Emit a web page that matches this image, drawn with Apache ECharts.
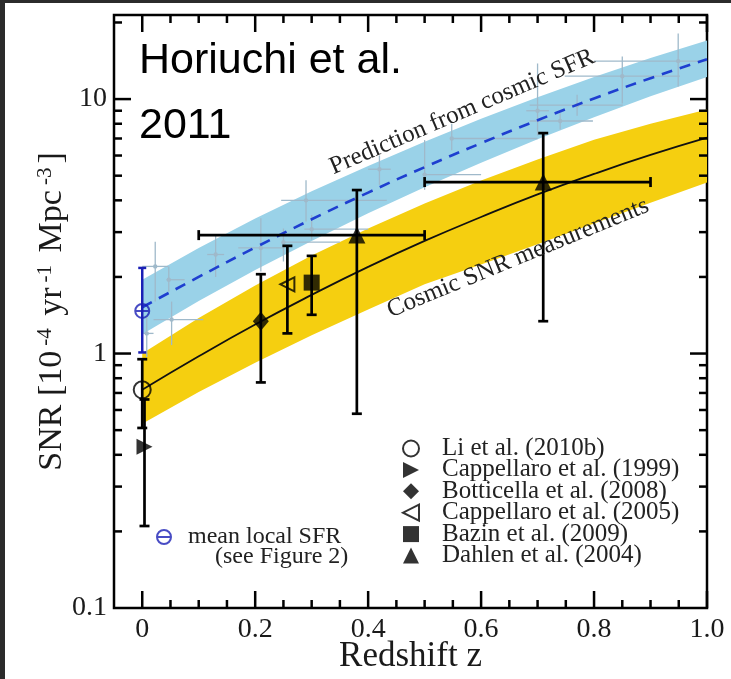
<!DOCTYPE html>
<html>
<head>
<meta charset="utf-8">
<script src="https://cdn.jsdelivr.net/npm/echarts@6/dist/echarts.min.js"></script>
<style>
  html, body { margin: 0; padding: 0; background: #ffffff; }
  #chart { width: 731px; height: 679px; }
</style>
</head>
<body>
<div id="chart"></div>
<script>
// ---- model curves, sampled in redshift ----
const zGrid = [0, 0.1, 0.2, 0.3, 0.4, 0.5, 0.6, 0.7, 0.8, 0.9, 1.0];
// SNR predicted from the cosmic star formation rate (dashed) and its band
const sfrPred  = [1.52, 2.0, 2.61, 3.37, 4.29, 5.4, 6.71, 8.26, 10.05, 12.08, 14.35];
const sfrUpper = [1.95, 2.6, 3.39, 4.34, 5.46, 6.79, 8.36, 10.16, 12.2, 14.5, 17.0];
const sfrLower = [1.19, 1.61, 2.13, 2.77, 3.56, 4.5, 5.62, 6.95, 8.49, 10.26, 12.2];
// fit to the cosmic SNR measurements (solid) and its band
const snrFit   = [0.72, 0.975, 1.3, 1.7, 2.19, 2.77, 3.44, 4.22, 5.08, 6.03, 7.05];
const snrUpper = [1.0, 1.38, 1.85, 2.43, 3.1, 3.89, 4.79, 5.79, 6.92, 8.0, 9.1];
const snrLower = [0.53, 0.706, 0.92, 1.18, 1.49, 1.87, 2.24, 2.69, 3.24, 3.91, 4.7];

// ---- SNR measurements: [z, snr, snrLow, snrHigh, zLow, zHigh] ----
const li2010          = [[0, 0.72, 0.51, 0.95]];
const cappellaro1999  = [[0.004, 0.43, 0.21, 0.66]];
const botticella2008  = [[0.21, 1.34, 0.77, 2.05]];
const cappellaro2005  = [[0.257, 1.87, 1.2, 2.65]];
const bazin2009       = [[0.30, 1.9, 1.42, 2.42]];
const dahlen2004      = [[0.38, 2.92, 0.58, 4.39, 0.1, 0.5], [0.71, 4.72, 1.34, 7.35, 0.5, 0.9]];
const meanLocalSfr    = [[0, 1.47, 1.01, 2.17]];

// ---- star formation data behind the prediction: [z, v, zLow, zHigh, vLow, vHigh] ----
const sfrData = [
  [0.023, 2.2, 0.0, 0.046, 1.6, 2.75],
  [0.052, 1.36, 0.02, 0.108, 1.08, 1.6],
  [0.008, 1.2, 0.002, 0.02, 0.97, 1.4],
  [0.047, 1.95, 0.043, 0.075, 1.75, 2.2],
  [0.13, 2.45, 0.115, 0.145, 2.0, 2.9],
  [0.21, 2.6, 0.17, 0.25, 2.1, 3.4],
  [0.25, 2.74, 0.248, 0.35, 2.3, 3.1],
  [0.29, 4.0, 0.246, 0.433, 3.3, 4.8],
  [0.30, 3.08, 0.287, 0.40, 2.8, 3.5],
  [0.42, 5.3, 0.40, 0.44, 4.6, 6.0],
  [0.50, 5.05, 0.50, 0.60, 4.4, 6.9],
  [0.548, 7.0, 0.548, 0.70, 6.3, 8.0],
  [0.70, 9.0, 0.68, 0.72, 7.2, 13.8],
  [0.77, 9.46, 0.686, 0.851, 8.6, 10.4],
  [0.74, 8.2, 0.686, 0.798, 7.6, 8.8],
  [0.85, 12.3, 0.748, 0.952, 9.6, 14.7],
  [0.949, 14.1, 0.80, 1.0, 11.2, 18.1]
];

// ---- frame ticks ----
const xMajorTicks = [0, 0.2, 0.4, 0.6, 0.8, 1.0];
const xMinorTicks = [0.05, 0.1, 0.15, 0.25, 0.3, 0.35, 0.45, 0.5, 0.55, 0.65, 0.7, 0.75, 0.85, 0.9, 0.95];
const yMajorTicks = [1, 10];
const yMinorTicks = [0.2, 0.3, 0.4, 0.5, 0.6, 0.7, 0.8, 0.9, 2, 3, 4, 5, 6, 7, 8, 9, 20];

const X_MIN = -0.05, X_MAX = 1.0, Y_MIN = 0.1, Y_MAX = 21.4;
const SERIF = '"Liberation Serif", "DejaVu Serif", serif';
const INK = '#1a1a1a';

function bandSeries(name, upper, lower, color) {
  return {
    type: 'custom', name: name, silent: true, z: 1, clip: true,
    data: zGrid.map((z, i) => [z, lower[i], upper[i]]),
    renderItem(params, api) {
      if (params.dataIndex !== 0) return null;
      const pts = [];
      zGrid.forEach((z, i) => pts.push(api.coord([z, upper[i]])));
      for (let i = zGrid.length - 1; i >= 0; i--) pts.push(api.coord([zGrid[i], lower[i]]));
      return { type: 'polygon', shape: { points: pts }, style: { fill: color } };
    }
  };
}

function errorBarSeries(name, rows, color, width, cap) {
  return {
    type: 'custom', name: name, silent: true, z: 5, clip: false,
    data: rows,
    renderItem(params, api) {
      const z = api.value(0), v = api.value(1);
      const lo = api.value(2), hi = api.value(3);
      const zl = api.value(4), zh = api.value(5);
      const st = { stroke: color, lineWidth: width };
      const kids = [];
      const pLo = api.coord([z, lo]), pHi = api.coord([z, hi]);
      kids.push({ type: 'line', shape: { x1: pLo[0], y1: pLo[1], x2: pHi[0], y2: pHi[1] }, style: st });
      kids.push({ type: 'line', shape: { x1: pLo[0] - cap, y1: pLo[1], x2: pLo[0] + cap, y2: pLo[1] }, style: st });
      kids.push({ type: 'line', shape: { x1: pHi[0] - cap, y1: pHi[1], x2: pHi[0] + cap, y2: pHi[1] }, style: st });
      if (isFinite(zl) && isFinite(zh)) {
        const a = api.coord([zl, v]), b = api.coord([zh, v]);
        kids.push({ type: 'line', shape: { x1: a[0], y1: a[1], x2: b[0], y2: b[1] }, style: st });
        kids.push({ type: 'line', shape: { x1: a[0], y1: a[1] - cap, x2: a[0], y2: a[1] + cap }, style: st });
        kids.push({ type: 'line', shape: { x1: b[0], y1: b[1] - cap, x2: b[0], y2: b[1] + cap }, style: st });
      }
      return { type: 'group', children: kids };
    }
  };
}

function tickSeries(values, onX, len) {
  return {
    type: 'custom', silent: true, z: 20, clip: false,
    data: values.map(v => onX ? [v, Y_MIN] : [X_MIN, v]),
    renderItem(params, api) {
      const st = { stroke: '#000', lineWidth: 2.5 };
      if (onX) {
        const v = api.value(0);
        const b = api.coord([v, Y_MIN]), t = api.coord([v, Y_MAX]);
        return { type: 'group', children: [
          { type: 'line', shape: { x1: b[0], y1: b[1], x2: b[0], y2: b[1] - len }, style: st },
          { type: 'line', shape: { x1: t[0], y1: t[1], x2: t[0], y2: t[1] + len }, style: st }
        ] };
      }
      const v = api.value(1);
      const l = api.coord([X_MIN, v]), r = api.coord([X_MAX, v]);
      return { type: 'group', children: [
        { type: 'line', shape: { x1: l[0], y1: l[1], x2: l[0] + len, y2: l[1] }, style: st },
        { type: 'line', shape: { x1: r[0], y1: r[1], x2: r[0] - len, y2: r[1] }, style: st }
      ] };
    }
  };
}

const sfrCrossSeries = {
  type: 'custom', silent: true, z: 2, clip: true,
  data: sfrData,
  renderItem(params, api) {
    const z = api.value(0), v = api.value(1);
    const a = api.coord([api.value(2), v]), b = api.coord([api.value(3), v]);
    const c = api.coord([z, api.value(4)]), d = api.coord([z, api.value(5)]);
    const p = api.coord([z, v]);
    const st = { stroke: '#9fb9ca', lineWidth: 1.3 };
    return { type: 'group', children: [
      { type: 'line', shape: { x1: a[0], y1: a[1], x2: b[0], y2: b[1] }, style: st },
      { type: 'line', shape: { x1: c[0], y1: c[1], x2: d[0], y2: d[1] }, style: st },
      { type: 'circle', shape: { cx: p[0], cy: p[1], r: 2.2 }, style: { fill: '#9fb9ca' } }
    ] };
  }
};

const RIGHT_TRI = 'path://M0,0 L10,5 L0,10 Z';
const LEFT_TRI = 'path://M10,0 L0,5 L10,10 Z';
const THETA = 'path://M0,5 A5,5 0 1,1 10,5 A5,5 0 1,1 0,5 Z M0,5 L10,5';

function markerSeries(name, rows, symbol, size, open) {
  return {
    type: 'scatter', name: name, z: 10,
    data: rows.map(r => [r[0], r[1]]),
    symbol: symbol, symbolSize: size,
    itemStyle: open
      ? { color: 'rgba(0,0,0,0)', borderColor: '#000', borderWidth: 2 }
      : { color: '#000', borderColor: '#000', borderWidth: 0 }
  };
}

const legendNames = [
  'Li et al. (2010b)', 'Cappellaro et al. (1999)', 'Botticella et al. (2008)',
  'Cappellaro et al. (2005)', 'Bazin et al. (2009)', 'Dahlen et al. (2004)'
];

const chart = echarts.init(document.getElementById('chart'), null, { renderer: 'canvas' });

chart.setOption({
  animation: false,
  backgroundColor: '#ffffff',
  grid: {
    left: 114, top: 15, right: 24, bottom: 71,
    containLabel: false, outerBoundsMode: 'none',
    show: true, borderColor: '#000', borderWidth: 2.5, backgroundColor: 'transparent'
  },
  xAxis: {
    type: 'value', min: X_MIN, max: X_MAX, interval: 0.05,
    axisLine: { show: false }, axisTick: { show: false }, splitLine: { show: false },
    axisLabel: {
      margin: 8, color: INK, fontFamily: SERIF, fontSize: 28,
      formatter: v => {
        const k = v / 0.2;
        if (v < -1e-9 || Math.abs(k - Math.round(k)) > 1e-6) return '';
        return Math.abs(v) < 1e-9 ? '0' : v.toFixed(1);
      }
    },
    name: 'Redshift z', nameLocation: 'middle', nameGap: 31, nameMoveOverlap: false,
    nameTextStyle: { color: INK, fontFamily: SERIF, fontSize: 35 }
  },
  yAxis: {
    type: 'log', logBase: 10, min: Y_MIN, max: Y_MAX,
    axisLine: { show: false }, axisTick: { show: false }, splitLine: { show: false },
    minorTick: { show: false },
    axisLabel: {
      margin: 7, color: INK, fontFamily: SERIF, fontSize: 28, showMaxLabel: false,
      formatter: v => {
        const l = Math.log10(v);
        if (Math.abs(l - Math.round(l)) > 1e-6) return '';
        return String(+v.toPrecision(3));
      }
    },
    name: 'SNR [10{sup|-4} yr{sup|-1} Mpc{sup|-3}]',
    nameLocation: 'middle', nameRotate: 90, nameGap: 45, nameMoveOverlap: false,
    nameTextStyle: {
      color: INK, fontFamily: SERIF, fontSize: 34, lineHeight: 34, verticalAlign: 'bottom',
      rich: {
        sup: { fontFamily: SERIF, fontSize: 21, color: INK, verticalAlign: 'top', lineHeight: 21, padding: [0, 4, 34, 5] }
      }
    }
  },
  legend: [
    {
      data: legendNames, orient: 'vertical', left: 402, top: 436, padding: 0,
      itemWidth: 16, itemHeight: 16, itemGap: -3.6,
      selectedMode: false,
      textStyle: { color: '#222', fontFamily: 'Liberation Serif', fontSize: 25, lineHeight: 21.3, padding: [0, 0, 0, 18] }
    },
    {
      data: ['mean local SFR'], orient: 'vertical', left: 156, top: 525, padding: 0,
      itemWidth: 14, itemHeight: 14, selectedMode: false,
      textStyle: { color: '#222', fontFamily: 'Liberation Serif', fontSize: 24, padding: [0, 0, 0, 12] }
    }
  ],
  graphic: [
    { type: 'rect', left: 0, top: 0, shape: { width: 731, height: 3 }, style: { fill: '#2b2b2b' }, z: 100 },
    { type: 'rect', left: 0, top: 0, shape: { width: 5, height: 679 }, style: { fill: '#2b2b2b' }, z: 100 },
    { type: 'text', left: 139, top: 40, z: 50,
      style: { text: 'Horiuchi et al.', fill: '#000', font: '43px "Liberation Sans", Arial, sans-serif' } },
    { type: 'text', left: 139, top: 105, z: 50,
      style: { text: '2011', fill: '#000', font: '43px "Liberation Sans", Arial, sans-serif' } },
    { type: 'text', x: 462, y: 112, rotation: 0.405, z: 50,
      style: { text: 'Prediction from cosmic SFR', fill: '#222', font: '25px ' + SERIF, align: 'center', verticalAlign: 'middle' } },
    { type: 'text', x: 518, y: 258, rotation: 0.39, z: 50,
      style: { text: 'Cosmic SNR measurements', fill: '#222', font: '25px ' + SERIF, align: 'center', verticalAlign: 'middle' } },
    { type: 'text', x: 215, y: 557, z: 50,
      style: { text: '(see Figure 2)', fill: '#222', font: '24px ' + SERIF, verticalAlign: 'middle' } }
  ],
  series: [
    bandSeries('SFR band', sfrUpper, sfrLower, '#9ad2e8'),
    bandSeries('SNR band', snrUpper, snrLower, '#f5cf10'),
    sfrCrossSeries,
    {
      type: 'line', name: 'Prediction from cosmic SFR', z: 3, smooth: true, showSymbol: false, silent: true,
      data: zGrid.map((z, i) => [z, sfrPred[i]]),
      lineStyle: { color: '#1e3fd0', width: 2.6, type: [11, 8] }
    },
    {
      type: 'line', name: 'Cosmic SNR measurements', z: 3, smooth: true, showSymbol: false, silent: true,
      data: zGrid.map((z, i) => [z, snrFit[i]]),
      lineStyle: { color: '#111', width: 1.8 }
    },
    errorBarSeries('err-mean', meanLocalSfr, '#1a1fb5', 2.5, 4),
    errorBarSeries('err-li', li2010, '#000', 2.7, 5),
    errorBarSeries('err-c99', cappellaro1999, '#000', 2.7, 5),
    errorBarSeries('err-b08', botticella2008, '#000', 2.7, 5),
    errorBarSeries('err-c05', cappellaro2005, '#000', 2.7, 5),
    errorBarSeries('err-b09', bazin2009, '#000', 2.7, 5),
    errorBarSeries('err-d04', dahlen2004, '#000', 2.7, 5),
    markerSeries('Li et al. (2010b)', li2010, 'circle', 17, true),
    markerSeries('Cappellaro et al. (1999)', cappellaro1999, RIGHT_TRI, 16, false),
    markerSeries('Botticella et al. (2008)', botticella2008, 'diamond', [16, 19], false),
    markerSeries('Cappellaro et al. (2005)', cappellaro2005, LEFT_TRI, 14, true),
    markerSeries('Bazin et al. (2009)', bazin2009, 'rect', 16, false),
    markerSeries('Dahlen et al. (2004)', dahlen2004, 'triangle', 17, false),
    {
      type: 'scatter', name: 'mean local SFR', z: 10,
      data: meanLocalSfr.map(r => [r[0], r[1]]),
      symbol: THETA, symbolSize: 14,
      itemStyle: { color: 'rgba(0,0,0,0)', borderColor: '#1a1fb5', borderWidth: 2 }
    },
    tickSeries(xMajorTicks, true, 17),
    tickSeries(xMinorTicks, true, 8),
    tickSeries(yMajorTicks, false, 17),
    tickSeries(yMinorTicks, false, 8)
  ]
});
</script>
</body>
</html>
